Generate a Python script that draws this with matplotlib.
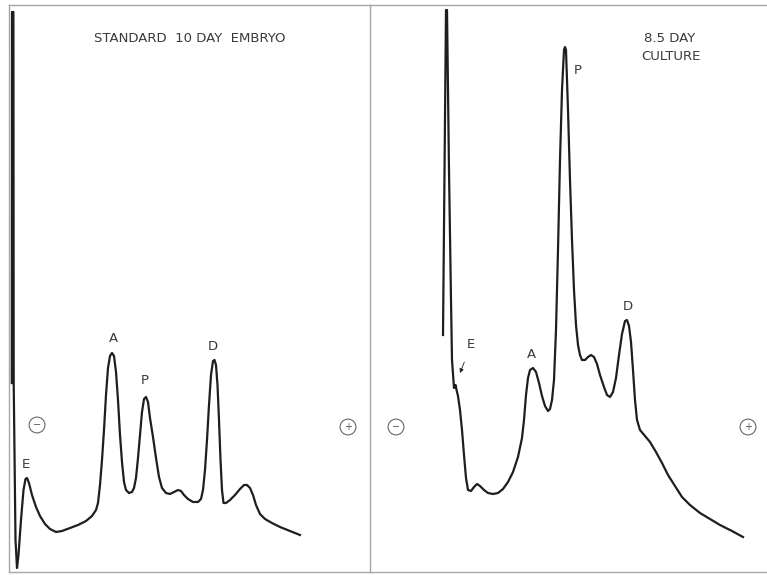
import matplotlib
matplotlib.use("Agg")
import matplotlib.pyplot as plt
import numpy as np

# densitometer traces
# x = migration position, y = pen position (pixel rows, 0 at top)
std_x = [11.8, 12.0, 13.4, 13.7, 15.5, 17, 18.5, 21, 23.5, 25.5, 27, 29, 32, 36, 40, 45, 50, 56, 62, 70, 78, 86, 92, 96, 98,
         100, 102, 104, 106, 108, 110, 112, 114, 116, 118, 120, 122, 124, 126, 129, 132, 134, 136, 138, 140, 142, 144,
         146, 148, 150, 153, 156, 159, 162, 166, 170, 174, 178, 181, 184, 188, 193, 198, 201, 203, 205, 207, 209, 211,
         213, 214.5, 216, 217.5, 219, 220.5, 222, 223.5, 226, 230, 235, 240, 244, 247, 250, 253, 256, 260, 265, 272,
         280, 290, 300]
std_y = [383, 12, 12, 383, 540, 568, 555, 520, 490, 479, 478, 483, 495, 507, 516, 524, 529, 532, 531, 528, 525, 521, 516,
         510, 503, 485, 460, 430, 395, 368, 356, 353, 356, 372, 400, 435, 462, 482, 490, 493, 492, 488, 478, 458, 435,
         412, 399, 397, 402, 418, 437, 458, 477, 488, 493, 494, 492, 490, 491, 495, 499, 502, 502, 499, 490, 470, 440,
         405, 375, 361, 360, 365, 385, 420, 460, 490, 503, 503, 500, 495, 489, 485, 485, 488, 495, 505, 514, 519, 523,
         527, 531, 535]

cul_x = [443, 446, 447, 449, 451, 452, 454, 455.5, 457, 458, 460, 462, 464, 466, 468, 471, 474, 477, 480, 484, 488, 493,
         498, 503, 508, 513, 518, 522, 524, 526, 528, 530, 533, 536, 539, 542, 545, 548, 550, 552, 554, 556, 558, 560,
         562, 564, 565, 566, 568, 570, 572, 574, 576, 578, 580, 582, 585, 588, 591, 594, 597, 600, 604, 607, 610, 613,
         616, 619, 622, 625, 627, 629, 631, 633, 635, 637, 640, 645, 650, 656, 662, 668, 675, 682, 690, 700, 710, 720,
         732, 743]
cul_y = [335, 10, 10, 170, 300, 360, 388, 385, 392, 396, 410, 430, 455, 478, 490, 491, 487, 484, 486, 490, 493, 494,
         493, 489, 482, 472, 457, 438, 420, 395, 378, 370, 368, 372, 383, 396, 406, 411, 409, 400, 380, 330, 250, 160,
         90, 50, 47, 50, 110, 180, 240, 290, 325, 345, 355, 360, 360, 357, 355, 357, 364, 375, 387, 395, 397, 392, 378,
         355, 334, 321, 320, 326, 342, 370, 400, 420, 430, 436, 442, 452, 463, 475, 486, 497, 505, 513, 519, 525, 531,
         537]

# peak labels
std_labels = ['E', 'A', 'P', 'D']
std_lx = [26, 113, 145, 213]
std_ly = [464, 338, 381, 346]
cul_labels = ['A', 'P', 'D']
cul_lx = [531, 578, 628]
cul_ly = [355, 70, 306]

H = 575
ink = '#1e1e1e'
txt = '#3a3a3a'
frame = '#a6a6a6'

fig = plt.figure(figsize=(7.67, 5.75), dpi=100)
fig.patch.set_facecolor('white')

axL = fig.add_axes([9 / 767, 3 / H, (370 - 9) / 767, (570 - 3) / H])
axR = fig.add_axes([370 / 767, 3 / H, (767 - 370) / 767, (570 - 3) / H])
axL.set_xlim(9, 370)
axR.set_xlim(370, 767)
for ax in (axL, axR):
    ax.set_facecolor('none')
    ax.set_ylim(H - 572, H - 5)
    ax.set_xticks([])
    ax.set_yticks([])
    for s in ax.spines.values():
        s.set_color(frame)
        s.set_linewidth(1.0)
axR.spines['right'].set_visible(False)
axR.spines['left'].set_visible(False)

def od(rows):
    return [H - r for r in rows]

axL.plot(std_x, od(std_y), color=ink, lw=1.6, solid_joinstyle='round')
axR.plot(cul_x, od(cul_y), color=ink, lw=1.6, solid_joinstyle='round')

for lab, x, y in zip(std_labels, std_lx, std_ly):
    axL.text(x, H - y, lab, color=txt, fontsize=9.5, ha='center', va='center')
for lab, x, y in zip(cul_labels, cul_lx, cul_ly):
    axR.text(x, H - y, lab, color=txt, fontsize=9.5, ha='center', va='center')

axR.annotate('E', xy=(460, H - 373), xytext=(471, H - 345), color=txt, fontsize=9.5,
             ha='center', va='center',
             arrowprops=dict(arrowstyle='-|>', color=ink, lw=0.6, mutation_scale=6,
                             shrinkA=6, shrinkB=0))

axL.text(190, H - 39, 'STANDARD  10 DAY  EMBRYO', color=txt, fontsize=9.5,
         ha='center', va='center')
axR.text(670, H - 39, '8.5 DAY', color=txt, fontsize=9.5, ha='center', va='center')
axR.text(671, H - 56, 'CULTURE', color=txt, fontsize=9.5, ha='center', va='center')

circ = dict(boxstyle='circle,pad=0.3', fc='white', ec='#666666', lw=0.8)
axL.text(37, H - 425, '\u2212', color='#555555', fontsize=7, ha='center', va='center', bbox=circ)
axL.text(348, H - 427, '+', color='#555555', fontsize=7, ha='center', va='center', bbox=circ)
axR.text(396, H - 427, '\u2212', color='#555555', fontsize=7, ha='center', va='center', bbox=circ)
axR.text(748, H - 427, '+', color='#555555', fontsize=7, ha='center', va='center', bbox=circ)

fig.savefig('out.png', dpi=100, facecolor='white')
